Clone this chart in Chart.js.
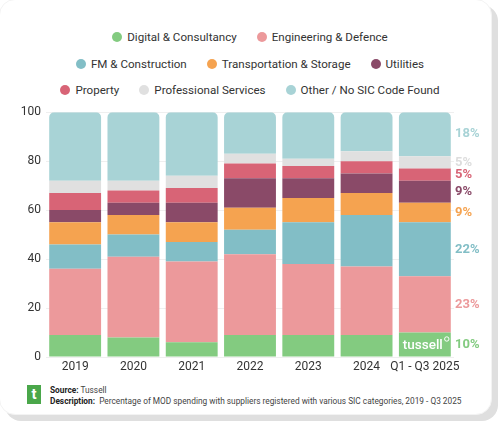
<!DOCTYPE html>
<html>
<head>
<meta charset="utf-8">
<script src="https://cdn.jsdelivr.net/npm/chart.js@4"></script>
<style>
  html, body { margin: 0; padding: 0; background: #fff; }
  body { width: 500px; height: 425px; position: relative; overflow: hidden; font-family: Roboto, "Noto Sans", sans-serif; }
  .card { position: absolute; left: -1px; top: -1px; width: 493px; height: 416px; background: #fff;
          border-radius: 16px; box-shadow: 6px 6px 0 #dfdfdf; border: 1px solid #f3f3f3; box-sizing: border-box; }
  .legend { position: absolute; left: 0; top: 24px; width: 500px; font-size: 11.6px; color: #333; }
  .legend .row { display: flex; justify-content: center; height: 26.5px; align-items: center; }
  .legend .item { display: flex; align-items: center; margin: 0 10px; white-space: nowrap; }
  .legend .dot { width: 10px; height: 10px; border-radius: 50%; margin-right: 5px; }
  #wrap { position: absolute; left: 0; top: 100px; width: 500px; height: 280px; }
  .footer { position: absolute; left: 27px; top: 385px; font-size: 8.3px; color: #444; }
  .logo { position: absolute; left: 0; top: 0; width: 14px; height: 19px; background: #4aa74a; color: #fff;
          font-weight: 700; font-size: 15px; line-height: 19px; text-align: center; }
  .footer .txt { position: absolute; left: 23px; top: 0; white-space: nowrap; line-height: 11px; }
  .footer b { color: #222; }
</style>
</head>
<body>
<div class="card"></div>
<div class="legend" id="legend"></div>
<div id="wrap"><canvas id="myCanvas"></canvas></div>
<div class="footer">
  <div class="logo">t</div>
  <div class="txt"><b>Source:</b> Tussell<br><b>Description:</b>&nbsp; Percentage of MOD spending with suppliers registered with various SIC categories, 2019 - Q3 2025</div>
</div>
<script>
const categories = ['2019', '2020', '2021', '2022', '2023', '2024', 'Q1 - Q3 2025'];
const digital = [9, 8, 6, 9, 9, 9, 10];
const engineering = [27, 33, 33, 33, 29, 28, 23];
const fmConstruction = [10, 9, 8, 10, 17, 21, 22];
const transport = [9, 8, 8, 9, 10, 9, 8];
const utilities = [5, 5, 8, 12, 8, 8, 9];
const property = [7, 5, 6, 6, 5, 5, 5];
const professional = [5, 4, 5, 4, 3, 4, 5];
const other = [28, 28, 26, 17, 19, 16, 18];
const latestLabels = ['10%', '23%', '22%', '9%', '9%', '5%', '5%', '18%'];
const yTicks = [0, 20, 40, 60, 80, 100];

const series = [
  { label: 'Digital & Consultancy', data: digital, color: '#83cb80' },
  { label: 'Engineering & Defence', data: engineering, color: '#ec999b' },
  { label: 'FM & Construction', data: fmConstruction, color: '#82bec6' },
  { label: 'Transportation & Storage', data: transport, color: '#f5a350' },
  { label: 'Utilities', data: utilities, color: '#8a4a68' },
  { label: 'Property', data: property, color: '#d86476' },
  { label: 'Professional Services', data: professional, color: '#e0e0e0' },
  { label: 'Other / No SIC Code Found', data: other, color: '#a8d3d6' }
];
const labelColors = ['#83cb80', '#ec999b', '#82bec6', '#f5a350', '#8a4a68', '#d86476', '#dddddd', '#a8d3d6'];

// html legend, three rows like the original
const legendRows = [[0, 1], [2, 3, 4], [5, 6, 7]];
const legendEl = document.getElementById('legend');
legendRows.forEach(r => {
  const row = document.createElement('div');
  row.className = 'row';
  r.forEach(i => {
    const it = document.createElement('div');
    it.className = 'item';
    it.innerHTML = '<span class="dot" style="background:' + series[i].color + '"></span>' + series[i].label;
    row.appendChild(it);
  });
  legendEl.appendChild(row);
});

const sideLabels = {
  id: 'sideLabels',
  afterDatasetsDraw(chart) {
    const ctx = chart.ctx;
    const y = chart.scales.y;
    const last = categories.length - 1;
    let base = 0;
    ctx.save();
    ctx.font = '700 13px Roboto, sans-serif';
    ctx.textAlign = 'left';
    ctx.textBaseline = 'middle';
    series.forEach((s, i) => {
      const v = s.data[last];
      ctx.fillStyle = labelColors[i];
      ctx.fillText(latestLabels[i], chart.chartArea.right + 1, y.getPixelForValue(base + v / 2));
      base += v;
    });
    // watermark in the last bar
    const bar = chart.getDatasetMeta(0).data[last];
    ctx.fillStyle = '#ffffff';
    ctx.font = '500 13.5px Roboto, sans-serif';
    ctx.textAlign = 'right';
    ctx.textBaseline = 'alphabetic';
    const rx = bar.x + bar.width / 2 - 8;
    ctx.fillText('tussell', rx, chart.chartArea.bottom - 8);
    ctx.strokeStyle = '#ffffff';
    ctx.lineWidth = 1;
    ctx.beginPath();
    ctx.arc(rx + 4, chart.chartArea.bottom - 18, 2.2, 0, Math.PI * 2);
    ctx.stroke();
    ctx.restore();
  }
};

new Chart(document.getElementById('myCanvas').getContext('2d'), {
  type: 'bar',
  data: {
    labels: categories,
    datasets: series.map((s, i) => ({
      label: s.label,
      data: s.data,
      backgroundColor: s.color,
      borderWidth: 0,
      borderSkipped: false,
      borderRadius: i === series.length - 1 ? { topLeft: 5, topRight: 5, bottomLeft: 0, bottomRight: 0 } : 0,
      categoryPercentage: 1,
      barPercentage: 0.89
    }))
  },
  options: {
    responsive: true,
    maintainAspectRatio: false,
    animation: false,
    layout: { padding: { left: 0, right: 46, top: 11, bottom: 3 } },
    plugins: { legend: { display: false }, tooltip: { enabled: false } },
    scales: {
      x: {
        stacked: true,
        grid: { display: false, drawTicks: false },
        border: { display: false },
        ticks: { color: '#333', font: { family: 'Roboto', size: 12 }, padding: 3, maxRotation: 0, autoSkip: false },
        afterFit(s) { s.height = 20; }
      },
      y: {
        stacked: true,
        min: 0,
        max: 100,
        afterBuildTicks(s) { s.ticks = yTicks.map(v => ({ value: v })); },
        grid: { color: '#efefef', drawTicks: false },
        border: { display: false },
        ticks: { color: '#333', font: { family: 'Roboto', size: 12 }, padding: 5 },
        afterFit(s) { s.width = 46; }
      }
    }
  },
  plugins: [sideLabels]
});
</script>
</body>
</html>
